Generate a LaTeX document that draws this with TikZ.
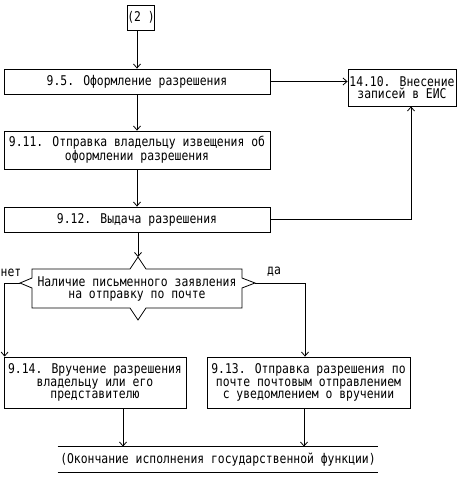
\documentclass[tikz,border=0pt]{standalone}
\usepackage{fontspec}
\setmainfont{DejaVu Sans Mono}[FakeStretch=0.85]
\usetikzlibrary{arrows.meta,calc}
\tikzset{
  box/.style={draw=black, line width=0.8pt, inner sep=0pt, align=center,
              font=\fontsize{13.4}{12.5}\selectfont},
  arr/.style={draw=black, line width=0.8pt, -{Straight Barb[length=4pt,width=7pt]}},
  ln/.style={draw=black, line width=0.8pt},
  lbl/.style={inner sep=0pt, font=\fontsize{13.4}{12.5}\selectfont}
}
\begin{document}
\begin{tikzpicture}[x=1pt,y=-1pt]
\useasboundingbox (0,0) rectangle (465,480);
% nodes
\node[box, minimum width=22pt, minimum height=25pt] (c2) at (141,17.5) {(2 )};
\node[box, minimum width=266pt, minimum height=25pt] (b95) at (137,81.5) {9.5. Оформление разрешения};
\node[box, minimum width=108pt, minimum height=37pt] (b1410) at (402,87.5) {14.10. Внесение\\записей в ЕИС};
\node[box, minimum width=266pt, minimum height=38pt] (b911) at (137,150) {9.11. Отправка владельцу извещения об\\оформлении разрешения};
\node[box, minimum width=266pt, minimum height=25pt] (b912) at (137,219.5) {9.12. Выдача разрешения};
% decision
\draw[ln] (32,269) -- (130,269) -- (138,257) -- (146,269) -- (242,269) -- (242,278)
  -- (255,283) -- (242,288) -- (242,308) -- (146,308) -- (138,320) -- (130,308)
  -- (32,308) -- (32,288) -- (20,283) -- (32,278) -- cycle;
\node[box, draw=none] (dec) at (137,289) {Наличие письменного заявления\\на отправку по почте};
\coordinate (dtop) at (138,257);
\coordinate (dleft) at (20,283);
\coordinate (dright) at (255,283);
\node[lbl, anchor=west] (net) at (0.5,273) {нет};
\node[lbl] (da) at (274,272) {да};
\node[box, minimum width=182pt, minimum height=51pt] (b914) at (95,382.5) {9.14. Вручение разрешения\\владельцу или его\\представителю};
\node[box, minimum width=203pt, minimum height=51pt] (b913) at (308.5,382.5) {9.13. Отправка разрешения по\\почте почтовым отправлением\\с уведомлением о вручении};
\node[box, draw=none, minimum width=320pt, minimum height=25pt] (end) at (218,459.5) {(Окончание исполнения государственной функции)};
\draw[ln] (end.north west) -- (end.north east);
\draw[ln] (end.south west) -- (end.south east);
% connectors
\draw[arr] (c2.south -| b95.north) -- (b95.north);
\draw[arr] (b95.east) -- (b95.east -| b1410.west);
\draw[arr] (b95.south) -- (b911.north);
\draw[arr] (b911.south) -- (b912.north);
\coordinate (k) at ($(b1410.south)+(9,0)$);
\draw[arr] (b912.east) -| (k);
\draw[arr] (b912.south -| dtop) -- (dtop);
\coordinate (lt) at ($(b914.north west)+(1,0)$);
\draw[arr] (dleft) -- (dleft -| lt) -- (lt);
\coordinate (rt) at ($(b913.north)+(-3.5,0)$);
\draw[arr] (dright) -- (dright -| rt) -- (rt);
\coordinate (e1) at ($(b914.south)+(28,0)$);
\draw[arr] (e1) -- (e1 |- end.north);
\coordinate (e2) at ($(b913.south)+(-4.5,0)$);
\draw[arr] (e2) -- (e2 |- end.north);
\end{tikzpicture}
\end{document}
